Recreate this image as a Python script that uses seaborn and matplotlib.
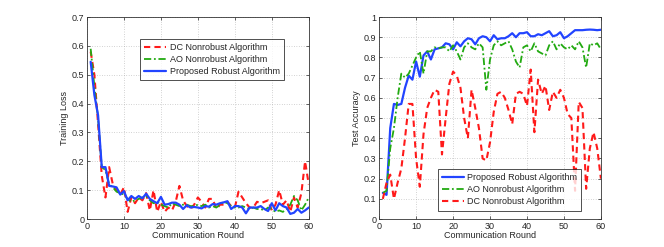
import numpy as np
import matplotlib
matplotlib.use("Agg")
import matplotlib.pyplot as plt
import seaborn as sns

rounds = np.arange(1, 61)

# training loss
loss_dc = [0.58, 0.50, 0.33, 0.15, 0.075, 0.18, 0.12, 0.10, 0.085, 0.11,
           0.025, 0.075, 0.055, 0.075, 0.065, 0.09, 0.03, 0.10, 0.025, 0.06,
           0.025, 0.04, 0.03, 0.06, 0.115, 0.065, 0.045, 0.035, 0.05, 0.075,
           0.06, 0.04, 0.07, 0.07, 0.035, 0.05, 0.05, 0.06, 0.045, 0.04,
           0.095, 0.075, 0.055, 0.04, 0.04, 0.06, 0.055, 0.06, 0.065, 0.03,
           0.05, 0.10, 0.05, 0.065, 0.025, 0.075, 0.04, 0.09, 0.20, 0.12]
loss_ao = [0.59, 0.46, 0.35, 0.18, 0.17, 0.12, 0.11, 0.095, 0.09, 0.085,
           0.07, 0.06, 0.065, 0.07, 0.075, 0.08, 0.065, 0.055, 0.06, 0.05,
           0.045, 0.04, 0.055, 0.05, 0.045, 0.05, 0.05, 0.045, 0.045, 0.05,
           0.045, 0.05, 0.04, 0.045, 0.04, 0.05, 0.06, 0.055, 0.045, 0.04,
           0.04, 0.045, 0.04, 0.035, 0.04, 0.035, 0.035, 0.03, 0.04, 0.035,
           0.025, 0.03, 0.025, 0.035, 0.05, 0.08, 0.065, 0.03, 0.05, 0.075]
loss_prop = [0.545, 0.43, 0.36, 0.18, 0.18, 0.115, 0.113, 0.11, 0.085, 0.097,
             0.065, 0.08, 0.07, 0.08, 0.072, 0.088, 0.07, 0.062, 0.055, 0.077,
             0.05, 0.052, 0.057, 0.057, 0.05, 0.035, 0.048, 0.04, 0.042, 0.04,
             0.037, 0.045, 0.043, 0.052, 0.05, 0.055, 0.058, 0.062, 0.035, 0.045,
             0.045, 0.04, 0.02, 0.04, 0.04, 0.04, 0.045, 0.035, 0.028, 0.055,
             0.03, 0.055, 0.045, 0.04, 0.018, 0.022, 0.035, 0.022, 0.03, 0.04]

# test accuracy
acc_prop = [0.13, 0.12, 0.45, 0.57, 0.565, 0.57, 0.65, 0.71, 0.69, 0.78,
            0.705, 0.81, 0.83, 0.79, 0.84, 0.845, 0.85, 0.87, 0.865, 0.84,
            0.875, 0.855, 0.88, 0.895, 0.89, 0.865, 0.895, 0.905, 0.90, 0.88,
            0.91, 0.89, 0.895, 0.895, 0.905, 0.92, 0.90, 0.92, 0.92, 0.925,
            0.905, 0.905, 0.915, 0.91, 0.92, 0.93, 0.905, 0.91, 0.925, 0.895,
            0.905, 0.92, 0.935, 0.935, 0.935, 0.937, 0.938, 0.937, 0.935, 0.937]
acc_ao = [0.13, 0.14, 0.35, 0.45, 0.60, 0.72, 0.70, 0.72, 0.76, 0.80,
          0.83, 0.72, 0.83, 0.83, 0.85, 0.845, 0.85, 0.85, 0.83, 0.86,
          0.83, 0.79, 0.85, 0.87, 0.85, 0.84, 0.87, 0.85, 0.64, 0.79,
          0.86, 0.88, 0.86, 0.87, 0.88, 0.84, 0.78, 0.75, 0.85, 0.86,
          0.83, 0.87, 0.83, 0.82, 0.81, 0.86, 0.88, 0.84, 0.87, 0.85,
          0.84, 0.86, 0.84, 0.88, 0.85, 0.75, 0.87, 0.86, 0.87, 0.84]
acc_dc = [0.10, 0.18, 0.22, 0.10, 0.18, 0.25, 0.40, 0.57, 0.57, 0.30,
          0.16, 0.42, 0.55, 0.60, 0.64, 0.63, 0.32, 0.50, 0.67, 0.73,
          0.71, 0.65, 0.50, 0.40, 0.64, 0.55, 0.45, 0.30, 0.29, 0.38,
          0.53, 0.62, 0.63, 0.60, 0.54, 0.47, 0.62, 0.63, 0.62, 0.56,
          0.74, 0.43, 0.69, 0.62, 0.66, 0.54, 0.63, 0.60, 0.64, 0.60,
          0.52, 0.50, 0.14, 0.58, 0.55, 0.15, 0.35, 0.43, 0.35, 0.20]

labels = ["Proposed Robust Algorithm", "AO Nonrobust Algorithm", "DC Nonrobust Algorithm"]

sns.set_style("ticks")
plt.rcParams["font.family"] = ["Liberation Sans", "DejaVu Sans"]
fs = 6.5

red = "#ff1a1a"
green = "#22aa11"
blue = "#2244ff"
dash = (0, (3, 2))
dashdot = (0, (4, 1.5, 1, 1.5))

fig = plt.figure(figsize=(6.64, 2.47), dpi=100)
ax1 = fig.add_axes([0.131, 0.113, 0.334, 0.818])
ax2 = fig.add_axes([0.571, 0.113, 0.334, 0.818])

sns.lineplot(x=rounds, y=loss_dc, ax=ax1, color=red, linestyle=dash, lw=1.5, label=labels[2])
sns.lineplot(x=rounds, y=loss_ao, ax=ax1, color=green, linestyle=dashdot, lw=1.3, label=labels[1])
sns.lineplot(x=rounds, y=loss_prop, ax=ax1, color=blue, linestyle="-", lw=1.6, label=labels[0])

sns.lineplot(x=rounds, y=acc_prop, ax=ax2, color=blue, linestyle="-", lw=1.6, label=labels[0])
sns.lineplot(x=rounds, y=acc_ao, ax=ax2, color=green, linestyle=dashdot, lw=1.3, label=labels[1])
sns.lineplot(x=rounds, y=acc_dc, ax=ax2, color=red, linestyle=dash, lw=1.5, label=labels[2])

ax1.set_xlim(0, 60)
ax1.set_ylim(0, 0.7)
ax1.set_yticks(np.arange(0, 0.71, 0.1))
ax1.set_yticklabels(["0", "0.1", "0.2", "0.3", "0.4", "0.5", "0.6", "0.7"])
ax1.set_ylabel("Training Loss", fontsize=fs, labelpad=2)

ax2.set_xlim(0, 60)
ax2.set_ylim(0, 1)
ax2.set_yticks(np.arange(0, 1.01, 0.1))
ax2.set_yticklabels(["0", "0.1", "0.2", "0.3", "0.4", "0.5", "0.6", "0.7", "0.8", "0.9", "1"])
ax2.set_ylabel("Test Accuracy", fontsize=fs, labelpad=2)

for ax in (ax1, ax2):
    ax.set_xticks(np.arange(0, 61, 10))
    ax.set_xlabel("Communication Round", fontsize=fs, labelpad=0)
    ax.tick_params(direction="in", labelsize=fs, length=2.5, width=0.5, pad=2,
                   top=True, right=True)
    ax.grid(True, linestyle=(0, (1, 2.5)), color="#aaaaaa", lw=0.5)
    for s in ax.spines.values():
        s.set_linewidth(0.6)
        s.set_color("#333333")

leg1 = ax1.legend(loc="upper left", bbox_to_anchor=(0.22, 0.915), fontsize=fs,
                  frameon=True, fancybox=False, edgecolor="black",
                  handlelength=2.4, borderpad=0.45, labelspacing=0.35, handletextpad=0.4)
leg1.get_frame().set_linewidth(0.6)
leg2 = ax2.legend(loc="lower left", bbox_to_anchor=(0.245, 0.02), fontsize=fs,
                  frameon=True, fancybox=False, edgecolor="black",
                  handlelength=2.4, borderpad=0.45, labelspacing=0.35, handletextpad=0.4)
leg2.get_frame().set_linewidth(0.6)

fig.savefig("out.png", dpi=100)
